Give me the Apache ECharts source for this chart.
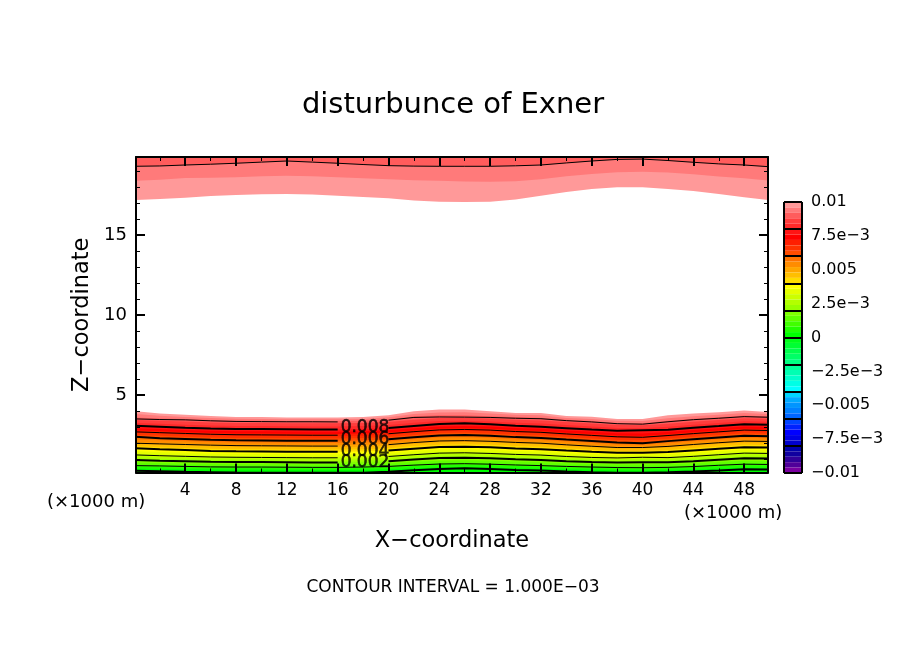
<!DOCTYPE html>
<html>
<head>
<meta charset="utf-8">
<style>html,body{margin:0;padding:0;background:#fff}#main{width:904px;height:654px}</style>
<script src="https://cdn.jsdelivr.net/npm/echarts@6/dist/echarts.min.js"></script>
</head>
<body>
<div id="main"></div>
<script>
// x positions of the sampled columns (x1000 m)
const xKm = [0,2,4,6,8,10,12,14,16,18,20,22,24,26,28,30,32,34,36,38,40,42,44,46,48,50];

// height (km) of each shading boundary in the low layer, one per 0.0004
const L100 = [3.99,3.85,3.76,3.69,3.63,3.63,3.60,3.60,3.60,3.63,3.73,3.98,4.10,4.10,3.98,3.88,3.88,3.69,3.64,3.51,3.51,3.73,3.85,3.93,4.04,3.94];
const L096 = [3.82,3.71,3.63,3.57,3.52,3.51,3.49,3.49,3.49,3.51,3.61,3.81,3.91,3.92,3.84,3.76,3.73,3.57,3.50,3.39,3.38,3.55,3.67,3.76,3.87,3.81];
const L092 = [3.60,3.54,3.50,3.44,3.40,3.39,3.38,3.38,3.37,3.39,3.48,3.67,3.73,3.74,3.68,3.62,3.58,3.45,3.37,3.26,3.24,3.40,3.52,3.61,3.72,3.66];
const L088 = [3.44,3.39,3.34,3.29,3.26,3.25,3.24,3.23,3.23,3.25,3.32,3.46,3.57,3.58,3.54,3.46,3.41,3.31,3.22,3.13,3.11,3.21,3.33,3.44,3.55,3.52];
const L084 = [3.25,3.20,3.15,3.10,3.07,3.06,3.05,3.04,3.04,3.06,3.13,3.27,3.38,3.39,3.35,3.27,3.22,3.12,3.03,2.94,2.92,3.02,3.14,3.25,3.36,3.33];
const L080 = [3.08,3.02,2.96,2.91,2.88,2.87,2.86,2.85,2.85,2.87,2.94,3.07,3.19,3.23,3.17,3.08,3.02,2.93,2.84,2.77,2.80,2.83,2.95,3.06,3.18,3.15];
const L076 = [2.93,2.87,2.82,2.77,2.74,2.73,2.72,2.71,2.71,2.73,2.80,2.93,3.04,3.07,3.03,2.94,2.89,2.79,2.70,2.61,2.60,2.69,2.81,2.92,3.03,3.00];
const L072 = [2.78,2.73,2.68,2.63,2.60,2.59,2.58,2.57,2.57,2.59,2.66,2.79,2.90,2.93,2.89,2.80,2.75,2.65,2.56,2.47,2.44,2.55,2.67,2.78,2.89,2.86];
const L068 = [2.64,2.59,2.54,2.49,2.46,2.45,2.44,2.43,2.43,2.45,2.52,2.65,2.76,2.79,2.75,2.66,2.61,2.51,2.42,2.33,2.30,2.41,2.53,2.64,2.75,2.72];
const L064 = [2.51,2.45,2.40,2.35,2.32,2.31,2.30,2.29,2.29,2.31,2.38,2.51,2.62,2.65,2.60,2.52,2.47,2.37,2.28,2.19,2.17,2.27,2.39,2.50,2.61,2.58];
const L060 = [2.40,2.30,2.25,2.20,2.17,2.16,2.15,2.14,2.14,2.16,2.23,2.36,2.47,2.50,2.45,2.37,2.32,2.22,2.13,2.04,1.99,2.12,2.24,2.35,2.46,2.43];
const L056 = [2.23,2.17,2.12,2.07,2.04,2.03,2.02,2.01,2.01,2.03,2.10,2.23,2.34,2.36,2.32,2.24,2.19,2.09,2.00,1.91,1.89,1.99,2.11,2.22,2.33,2.30];
const L052 = [2.05,2.01,1.97,1.93,1.90,1.89,1.88,1.87,1.87,1.89,1.96,2.09,2.19,2.21,2.17,2.10,2.05,1.95,1.86,1.78,1.78,1.85,1.97,2.08,2.18,2.16];
const L048 = [1.95,1.89,1.84,1.80,1.77,1.76,1.75,1.74,1.74,1.76,1.83,1.96,2.05,2.07,2.04,1.97,1.92,1.82,1.73,1.66,1.66,1.72,1.84,1.94,2.04,2.02];
const L044 = [1.80,1.74,1.69,1.65,1.62,1.61,1.60,1.59,1.59,1.61,1.68,1.81,1.90,1.92,1.89,1.82,1.77,1.67,1.58,1.51,1.51,1.57,1.69,1.79,1.89,1.87];
const L040 = [1.67,1.61,1.56,1.51,1.48,1.47,1.46,1.45,1.45,1.47,1.53,1.65,1.75,1.77,1.73,1.66,1.62,1.53,1.45,1.39,1.40,1.44,1.54,1.64,1.74,1.72];
const L036 = [1.49,1.44,1.39,1.35,1.33,1.32,1.31,1.30,1.30,1.32,1.38,1.50,1.60,1.62,1.58,1.51,1.47,1.38,1.31,1.26,1.28,1.30,1.39,1.49,1.59,1.57];
const L032 = [1.33,1.28,1.24,1.20,1.18,1.17,1.16,1.15,1.15,1.17,1.23,1.34,1.44,1.46,1.42,1.36,1.32,1.23,1.17,1.14,1.18,1.16,1.24,1.34,1.44,1.42];
const L028 = [1.20,1.15,1.11,1.07,1.05,1.04,1.03,1.02,1.02,1.04,1.10,1.21,1.31,1.33,1.29,1.23,1.19,1.10,1.04,1.01,1.05,1.03,1.11,1.21,1.31,1.29];
const L024 = [1.05,1.01,0.98,0.94,0.92,0.92,0.91,0.90,0.90,0.92,0.97,1.08,1.17,1.19,1.16,1.10,1.05,0.98,0.93,0.90,0.93,0.91,0.98,1.07,1.16,1.14];
const L020 = [0.94,0.90,0.87,0.83,0.81,0.81,0.80,0.79,0.79,0.81,0.86,0.97,1.06,1.08,1.05,0.99,0.94,0.87,0.82,0.79,0.80,0.80,0.87,0.96,1.05,1.03];
const L016 = [0.79,0.76,0.73,0.70,0.68,0.68,0.67,0.66,0.66,0.68,0.73,0.83,0.90,0.92,0.89,0.84,0.80,0.74,0.69,0.66,0.66,0.67,0.73,0.81,0.89,0.87];
const L012 = [0.65,0.63,0.60,0.57,0.56,0.56,0.55,0.54,0.54,0.56,0.60,0.68,0.75,0.77,0.74,0.69,0.65,0.60,0.56,0.53,0.52,0.54,0.59,0.67,0.74,0.72];
const L008 = [0.53,0.51,0.48,0.45,0.44,0.44,0.43,0.42,0.42,0.44,0.48,0.56,0.63,0.65,0.62,0.57,0.53,0.48,0.44,0.41,0.40,0.42,0.47,0.55,0.62,0.60];
const L004 = [0.40,0.38,0.36,0.34,0.33,0.33,0.32,0.31,0.31,0.33,0.36,0.43,0.49,0.50,0.48,0.43,0.40,0.36,0.33,0.30,0.29,0.31,0.35,0.41,0.48,0.46];

// odd contours that fall between the shading boundaries
const C090 = [3.51,3.47,3.45,3.39,3.35,3.34,3.33,3.33,3.32,3.34,3.43,3.60,3.63,3.62,3.60,3.55,3.52,3.40,3.32,3.21,3.18,3.33,3.46,3.55,3.65,3.61];
const C070 = [2.70,2.65,2.60,2.55,2.52,2.51,2.50,2.49,2.49,2.51,2.58,2.71,2.82,2.85,2.81,2.72,2.67,2.57,2.48,2.39,2.36,2.47,2.59,2.70,2.81,2.78];
const C050 = [1.99,1.95,1.91,1.87,1.84,1.83,1.82,1.81,1.81,1.83,1.90,2.03,2.13,2.15,2.11,2.04,1.99,1.89,1.80,1.72,1.72,1.79,1.91,2.02,2.12,2.10];
const C030 = [1.26,1.21,1.17,1.13,1.11,1.10,1.09,1.08,1.08,1.10,1.16,1.27,1.37,1.39,1.35,1.29,1.25,1.16,1.10,1.07,1.11,1.09,1.17,1.27,1.37,1.35];
const C010 = [0.59,0.57,0.54,0.51,0.50,0.50,0.49,0.48,0.48,0.50,0.54,0.62,0.69,0.71,0.68,0.63,0.59,0.54,0.50,0.47,0.46,0.48,0.53,0.61,0.68,0.66];
const C000 = [0.27,0.24,0.20,0.18,0.16,0.15,0.14,0.14,0.14,0.14,0.20,0.30,0.38,0.42,0.38,0.32,0.28,0.22,0.18,0.15,0.15,0.17,0.22,0.28,0.36,0.34];

// same boundaries near the model top
const U100 = [17.18,17.25,17.33,17.43,17.50,17.54,17.56,17.52,17.45,17.37,17.29,17.15,17.08,17.06,17.08,17.22,17.45,17.68,17.87,17.98,17.98,17.87,17.75,17.56,17.35,17.18];
const U096 = [18.39,18.45,18.56,18.58,18.60,18.66,18.70,18.66,18.60,18.54,18.48,18.42,18.39,18.34,18.33,18.36,18.48,18.67,18.81,18.92,18.95,18.90,18.79,18.65,18.54,18.39];
const U092 = [19.29,19.31,19.37,19.42,19.48,19.55,19.62,19.55,19.48,19.40,19.33,19.30,19.29,19.29,19.29,19.32,19.37,19.50,19.62,19.72,19.74,19.65,19.54,19.44,19.37,19.26];

const xMajorTicks = [4,8,12,16,20,24,28,32,36,40,44,48];
const xMinorTicks = [2,6,10,14,18,22,26,30,34,38,42,46];
const zMajorTicks = [5,10,15];
const zMinorTicks = [1,2,3,4,6,7,8,9,11,12,13,14,16,17,18,19];

const labelNames = ['0.008','0.006','0.004','0.002'];
const labelX = [18.15,18.15,18.15,18.15];
const labelZ = [2.98,2.19,1.46,0.75];

// top of the colour bar first, one shade per 0.0004
const shades = [
  '#ff9999','#ff7a7a','#ff5c5c','#ff3d3d','#ff2a2a',
  '#ff1414','#ff0000','#ff1f00','#ff3300','#ff4d00',
  '#ff7300','#ff8c00','#ffa600','#ffbf00','#ffdb00',
  '#ffff00','#e6ff00','#ccff00','#b3ff00','#99ff00',
  '#80ff00','#60ff00','#40ff00','#20ff00','#00ff00',
  '#00ff1a','#00ff33','#00ff4d','#00ff66','#00ff80',
  '#00ff99','#00ffb3','#00ffcc','#00ffe6','#00ffff',
  '#00d4ff','#00aaff','#0095ff','#0080ff','#0066ff',
  '#0044ff','#0022ff','#0000ff','#0000e6','#0000cc',
  '#0000aa','#10009f','#300099','#500099','#7a00a0'
];
const colorbarLabels = ['\u22120.01','\u22127.5e\u22123','\u22120.005','\u22122.5e\u22123','0','2.5e\u22123','0.005','7.5e\u22123','0.01'];

const FONT = 'DejaVu Sans';
const chart = echarts.init(document.getElementById('main'));

const toPairs = (arr, gap) => arr.map((v, i) => [xKm[i], gap && xKm[i] === 18 ? null : v]);

const lowLevels = [L100,L096,L092,L088,L084,L080,L076,L072,L068,L064,L060,L056,L052,L048,L044,L040,L036,L032,L028,L024,L020,L016,L012,L008,L004];
const upLevels = [U100,U096,U092];

const series = [];
upLevels.forEach((lv, i) => {
  series.push({ type: 'line', symbol: 'none', silent: true, data: toPairs(lv),
    lineStyle: { width: 0 }, areaStyle: { color: shades[i], opacity: 1, origin: 'end' } });
});
lowLevels.forEach((lv, i) => {
  series.push({ type: 'line', symbol: 'none', silent: true, data: toPairs(lv),
    lineStyle: { width: 0 }, areaStyle: { color: shades[i], opacity: 1, origin: 'start' } });
});

// black contours every 0.001, even ones are drawn heavier, broken around the labels
const contours = [
  [U092, 1, false],[C090, 1, true],[L080, 2, true],[C070, 1, true],[L060, 2, true],
  [C050, 1, true],[L040, 2, true],[C030, 1, true],[L020, 2, true],[C010, 1, false],[C000, 2, false]
];
contours.forEach(c => {
  series.push({ type: 'line', symbol: 'none', silent: true, z: 3, data: toPairs(c[0], c[2]),
    lineStyle: { color: '#000', width: c[1] } });
});

series.push({
  type: 'scatter', symbolSize: 0, silent: true, z: 6,
  data: labelX.map((x, i) => [x, labelZ[i]]),
  label: { show: true, position: 'inside', color: '#000', fontFamily: FONT, fontSize: 17,
    textBorderColor: '#000', textBorderWidth: 0.6, formatter: p => labelNames[p.dataIndex] }
});
series.push({
  type: 'bar', xAxisIndex: 4, yAxisIndex: 4, barWidth: '100%', silent: true, z: 1,
  data: shades.map(c => ({ value: 1, itemStyle: { color: c } }))
});

const xBase = { type: 'value', min: 0.125, max: 49.875, gridIndex: 0, z: 5, splitLine: { show: false } };
const zBase = { type: 'value', min: 0.16, max: 19.87, gridIndex: 0, z: 5, splitLine: { show: false } };
const frame = { show: true, onZero: false, lineStyle: { color: '#000', width: 2 } };
const noAxis = { axisLine: { show: false }, axisTick: { show: false }, axisLabel: { show: false } };

const option = {
  animation: false,
  backgroundColor: '#fff',
  title: [
    { text: 'disturbunce of Exner', left: 448, top: 86, textAlign: 'center', textStyle: { fontFamily: FONT, fontSize: 29, fontWeight: 'normal', color: '#000' } },
    { text: 'CONTOUR INTERVAL = 1.000E\u221203', left: 448, top: 574, textAlign: 'center', textStyle: { fontFamily: FONT, fontSize: 17, fontWeight: 'normal', color: '#000' } },
    { text: '(\u00d71000 m)', left: 42, top: 488, textStyle: { fontFamily: FONT, fontSize: 18, fontWeight: 'normal', color: '#000' } },
    { text: '(\u00d71000 m)', left: 679, top: 499, textStyle: { fontFamily: FONT, fontSize: 18, fontWeight: 'normal', color: '#000' } }
  ],
  grid: [
    { left: 136, top: 157, width: 632, height: 315.5 },
    { left: 784, top: 202, width: 18, height: 271 }
  ],
  xAxis: [
    { ...xBase, position: 'bottom', name: 'X\u2212coordinate', nameLocation: 'middle', nameGap: 57,
      nameTextStyle: { fontFamily: FONT, fontSize: 22.5, color: '#000' }, axisLine: frame,
      axisTick: { show: true, inside: true, length: 9, lineStyle: { color: '#000', width: 2 }, customValues: xMajorTicks },
      axisLabel: { show: true, color: '#000', fontFamily: FONT, fontSize: 17, margin: 10, customValues: xMajorTicks } },
    { ...xBase, position: 'bottom', axisLine: { show: false }, axisLabel: { show: false },
      axisTick: { show: true, inside: true, length: 4, lineStyle: { color: '#000', width: 1 }, customValues: xMinorTicks } },
    { ...xBase, position: 'top', axisLine: frame, axisLabel: { show: false },
      axisTick: { show: true, inside: true, length: 9, lineStyle: { color: '#000', width: 2 }, customValues: xMajorTicks } },
    { ...xBase, position: 'top', axisLine: { show: false }, axisLabel: { show: false },
      axisTick: { show: true, inside: true, length: 4, lineStyle: { color: '#000', width: 1 }, customValues: xMinorTicks } },
    { type: 'value', gridIndex: 1, min: 0, max: 1, interval: 1, z: 5, ...noAxis,
      splitLine: { show: true, lineStyle: { color: '#000', width: 2 } } }
  ],
  yAxis: [
    { ...zBase, position: 'left', name: 'Z\u2212coordinate', nameLocation: 'middle', nameGap: 40,
      nameTextStyle: { fontFamily: FONT, fontSize: 22.5, color: '#000' }, axisLine: frame,
      axisTick: { show: true, inside: true, length: 9, lineStyle: { color: '#000', width: 2 }, customValues: zMajorTicks },
      axisLabel: { show: true, color: '#000', fontFamily: FONT, fontSize: 18, margin: 9, customValues: zMajorTicks } },
    { ...zBase, position: 'left', axisLine: { show: false }, axisLabel: { show: false },
      axisTick: { show: true, inside: true, length: 4, lineStyle: { color: '#000', width: 1 }, customValues: zMinorTicks } },
    { ...zBase, position: 'right', axisLine: frame, axisLabel: { show: false },
      axisTick: { show: true, inside: true, length: 9, lineStyle: { color: '#000', width: 2 }, customValues: zMajorTicks } },
    { ...zBase, position: 'right', axisLine: { show: false }, axisLabel: { show: false },
      axisTick: { show: true, inside: true, length: 4, lineStyle: { color: '#000', width: 1 }, customValues: zMinorTicks } },
    { type: 'category', gridIndex: 1, inverse: true, show: false, data: shades.map((c, i) => i) },
    // labels every 0.0025, black separators every 0.002
    { type: 'value', gridIndex: 1, position: 'right', min: -0.01, max: 0.01, interval: 0.0025, z: 5,
      axisLine: { show: false }, axisTick: { show: false }, splitLine: { show: false },
      axisLabel: { show: true, color: '#000', fontFamily: FONT, fontSize: 16, margin: 9, formatter: (v, i) => colorbarLabels[i] } },
    { type: 'value', gridIndex: 1, position: 'left', min: -0.01, max: 0.01, interval: 0.002, z: 5, ...noAxis,
      splitLine: { show: true, lineStyle: { color: '#000', width: 2 } } }
  ],
  series: series
};
chart.setOption(option);
</script>
</body>
</html>
